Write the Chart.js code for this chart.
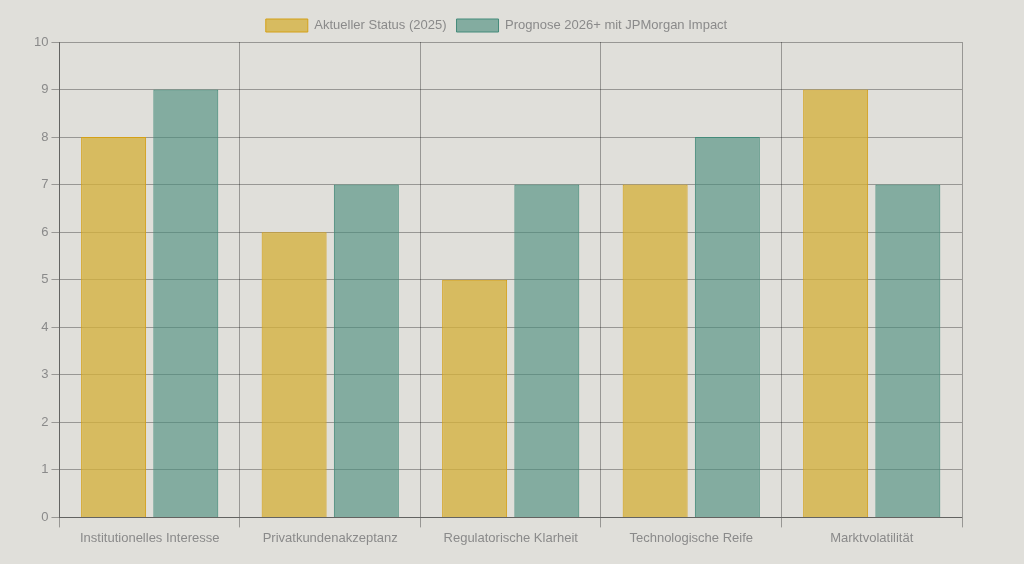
<html>
<head>
<meta charset="UTF-8">
<script src="https://cdn.jsdelivr.net/npm/chart.js"></script>
<style>
    html, body { margin: 0; padding: 0; background: #e0dfda; }
    .chart_container { width: 1024px; height: 564px; }
</style>
</head>
<body>
<div class='chart_container'>
    <canvas id='chart'></canvas>
</div>
<script>
    const categories = ['Institutionelles Interesse', 'Privatkundenakzeptanz', 'Regulatorische Klarheit', 'Technologische Reife', 'Marktvolatilität'];
    const statusValues = [8, 6, 5, 7, 9];
    const prognoseValues = [9, 7, 7, 8, 7];

    Chart.defaults.font.family = 'Helvetica, Arial, "Liberation Sans", sans-serif';
    Chart.defaults.font.size = 13;
    Chart.defaults.color = '#8a8a8a';

    const ctx = document.getElementById('chart');
    new Chart(ctx, {
        type: 'bar',
        data: {
            labels: categories,
            datasets: [
                {
                    label: 'Aktueller Status (2025)',
                    data: statusValues,
                    backgroundColor: 'rgba(212, 175, 55, 0.75)',
                    borderColor: 'rgb(212, 160, 23)',
                    borderWidth: 1
                },
                {
                    label: 'Prognose 2026+ mit JPMorgan Impact',
                    data: prognoseValues,
                    backgroundColor: 'rgba(69, 139, 122, 0.6)',
                    borderColor: 'rgb(69, 139, 122)',
                    borderWidth: 1
                }
            ]
        },
        options: {
            responsive: true,
            maintainAspectRatio: false,
            animation: false,
            layout: { padding: { left: 31, right: 62, top: 9, bottom: 15 } },
            plugins: {
                legend: {
                    position: 'top',
                    labels: { boxWidth: 42, boxHeight: 13 }
                }
            },
            scales: {
                x: {
                    grid: { color: 'rgba(0,0,0,0.32)', tickLength: 10 },
                    border: { color: 'rgba(0,0,0,0.35)' }
                },
                y: {
                    min: 0,
                    max: 10,
                    ticks: { stepSize: 1 },
                    grid: { color: 'rgba(0,0,0,0.32)' },
                    border: { color: 'rgba(0,0,0,0.35)' }
                }
            }
        }
    });
</script>
</body>
</html>
